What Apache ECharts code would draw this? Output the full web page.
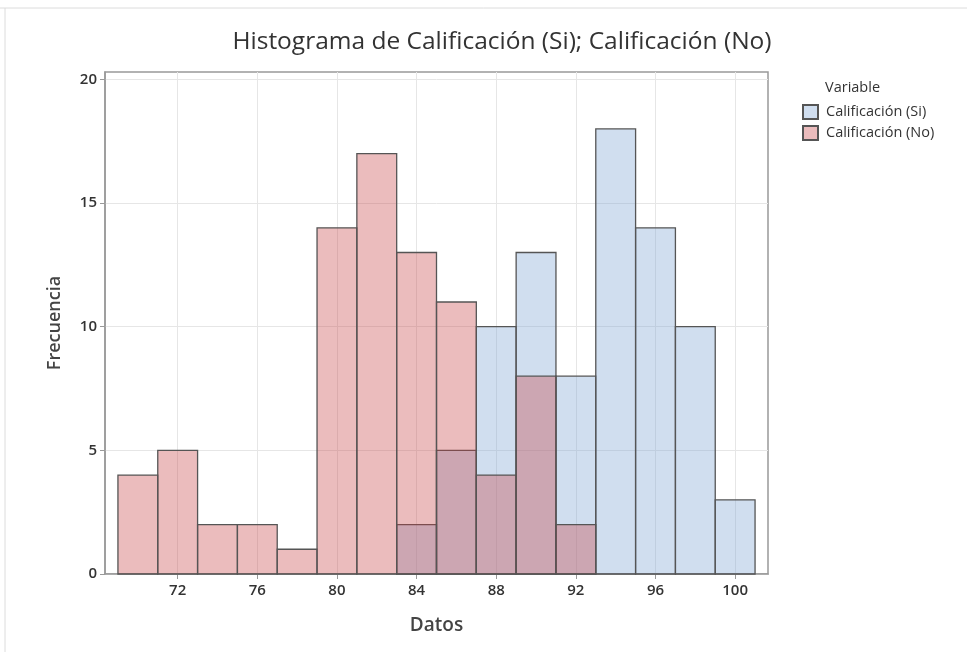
<!DOCTYPE html>
<html>
<head>
<meta charset="utf-8">
<script src="https://cdn.jsdelivr.net/npm/echarts@6/dist/echarts.min.js"></script>
<style>
  html, body { margin: 0; padding: 0; background: #fff; }
  #chart { width: 967px; height: 652px; }
</style>
</head>
<body>
<div id="chart"></div>
<script>
var binCenters = [70, 72, 74, 76, 78, 80, 82, 84, 86, 88, 90, 92, 94, 96, 98, 100];
var binWidth = 2;
var siCounts = [0, 0, 0, 0, 0, 0, 0, 2, 5, 10, 13, 8, 18, 14, 10, 3];
var noCounts = [4, 5, 2, 2, 1, 14, 17, 13, 11, 4, 8, 2, 0, 0, 0, 0];
var xTicks = [72, 76, 80, 84, 88, 92, 96, 100];
var yTicks = [0, 5, 10, 15, 20];

var fontFam = '"Open Sans", "Noto Sans", sans-serif';

function toBins(counts) {
    var out = [];
    for (var i = 0; i < binCenters.length; i++) {
        if (counts[i] > 0) {
            out.push([binCenters[i] - binWidth / 2, binCenters[i] + binWidth / 2, counts[i]]);
        }
    }
    return out;
}

function renderBar(params, api) {
    var p0 = api.coord([api.value(0), api.value(2)]);
    var p1 = api.coord([api.value(1), 0]);
    return {
        type: 'rect',
        shape: { x: p0[0], y: p0[1], width: p1[0] - p0[0], height: p1[1] - p0[1] },
        style: api.style()
    };
}

var option = {
    backgroundColor: '#fff',
    animation: false,
    title: {
        text: 'Histograma de Calificación (Si); Calificación (No)',
        left: 497,
        textAlign: 'center',
        top: 25,
        textStyle: { fontFamily: fontFam, fontSize: 24.5, fontWeight: 'normal', color: '#333' }
    },
    legend: {
        orient: 'vertical',
        left: 797,
        top: 99,
        itemWidth: 15,
        itemHeight: 14,
        itemGap: 5,
        icon: 'rect',
        textStyle: { fontFamily: fontFam, fontSize: 14.5, color: '#333', padding: [0, 0, 0, 3] },
        data: ['Calificación (Si)', 'Calificación (No)']
    },
    graphic: [
        { type: 'text', left: 825, top: 80, style: { text: 'Variable', fontFamily: fontFam, fontSize: 14.5, fill: '#333' } },
        { type: 'line', shape: { x1: 0, y1: 8, x2: 967, y2: 8 }, style: { stroke: '#dcdcdc', lineWidth: 1 } },
        { type: 'line', shape: { x1: 5, y1: 8, x2: 5, y2: 652 }, style: { stroke: '#dcdcdc', lineWidth: 1 } }
    ],
    grid: {
        left: 105,
        right: 199,
        top: 72,
        bottom: 78,
        show: true,
        borderColor: '#999',
        borderWidth: 1.5
    },
    xAxis: {
        type: 'value',
        min: 68.35,
        max: 101.65,
        name: 'Datos',
        nameLocation: 'middle',
        nameGap: 42,
        nameTextStyle: { fontFamily: fontFam, fontSize: 19, fontWeight: 600, color: '#444' },
        axisLine: { show: true, lineStyle: { color: '#999', width: 1.5 } },
        axisTick: { show: true, customValues: xTicks, length: 5, lineStyle: { color: '#999' } },
        axisLabel: { customValues: xTicks, fontFamily: fontFam, fontSize: 15, fontWeight: 600, color: '#333', margin: 9 },
        splitLine: { show: true, lineStyle: { color: '#e6e6e6', width: 1 } }
    },
    yAxis: {
        type: 'value',
        min: 0,
        max: 20.3,
        name: 'Frecuencia',
        nameLocation: 'middle',
        nameGap: 41,
        nameTextStyle: { fontFamily: fontFam, fontSize: 18, fontWeight: 600, color: '#444' },
        axisLine: { show: true, lineStyle: { color: '#999', width: 1.5 } },
        axisTick: { show: true, customValues: yTicks, length: 5, lineStyle: { color: '#999' } },
        axisLabel: { customValues: yTicks, fontFamily: fontFam, fontSize: 15, fontWeight: 600, color: '#333', margin: 8 },
        splitLine: { show: true, lineStyle: { color: '#e6e6e6', width: 1 } }
    },
    series: [
        {
            name: 'Calificación (Si)',
            type: 'custom',
            renderItem: renderBar,
            encode: { x: [0, 1], y: 2 },
            itemStyle: { color: 'rgba(121,161,209,0.35)', borderColor: '#555', borderWidth: 1.3 },
            data: toBins(siCounts)
        },
        {
            name: 'Calificación (No)',
            type: 'custom',
            renderItem: renderBar,
            encode: { x: [0, 1], y: 2 },
            itemStyle: { color: 'rgba(198,64,66,0.35)', borderColor: '#555', borderWidth: 1.3 },
            data: toBins(noCounts)
        }
    ]
};

var myChart = echarts.init(document.getElementById('chart'));
myChart.setOption(option);
</script>
</body>
</html>
